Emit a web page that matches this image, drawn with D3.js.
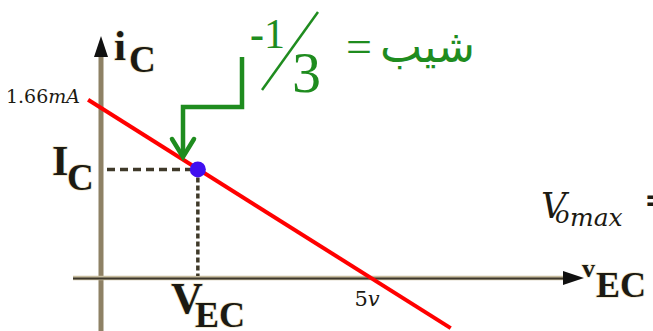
<!DOCTYPE html>
<html>
<head>
<meta charset="utf-8">
<script src="https://cdn.jsdelivr.net/npm/d3@7/dist/d3.min.js"></script>
<style>
  html, body { margin: 0; padding: 0; background: #ffffff; }
  svg { display: block; }
</style>
</head>
<body>
<div id="chart"></div>
<script>
// Load line of the common-emitter stage: i_C against v_EC
const loadLineV = [-0.24, 6.5];      // volts at the ends of the drawn line
const loadLineI = [1.74, -0.49];     // mA at the same ends
const qPointV = [1.8];               // operating point V_EC (V)
const qPointI = [1.06];              // operating point I_C (mA)
const yTickValues = [1.66];
const yTickLabels = [["1.66", "mA"]];
const xTickValues = [5];
const xTickLabels = [["5", "v"]];

const W = 653, H = 331;
const svg = d3.select("#chart").append("svg")
  .attr("width", W).attr("height", H);

const x = d3.scaleLinear().domain([0, 5]).range([101, 370]);
const y = d3.scaleLinear().domain([0, 1.66]).range([278, 108]);

const axisCol = "#8e8165";
const ink = "#1c1a12";
const halo = "#efe7cf";
const green = "#1f8c1f";
const boldFont = "'Liberation Serif', 'Times New Roman', serif";
const mathFont = "'DejaVu Serif', 'Liberation Serif', serif";

// vertical axis (i_C)
svg.append("line")
  .attr("x1", x(0)).attr("x2", x(0))
  .attr("y1", H).attr("y2", 55)
  .attr("stroke", axisCol).attr("stroke-width", 5);
svg.append("path")
  .attr("d", `M${x(0)},36 L${x(0) + 7},57 L${x(0) - 7},57 Z`)
  .attr("fill", "#111");

// horizontal axis (v_EC)
svg.append("line")
  .attr("x1", 73).attr("x2", 566)
  .attr("y1", y(0)).attr("y2", y(0))
  .attr("stroke", "#c9bea0").attr("stroke-width", 4.5);
svg.append("line")
  .attr("x1", 73).attr("x2", 566)
  .attr("y1", y(0) + 0.5).attr("y2", y(0) + 0.5)
  .attr("stroke", "#3c372b").attr("stroke-width", 2);
svg.append("path")
  .attr("d", `M584,${y(0)} L563,${y(0) - 7} L563,${y(0) + 7} Z`)
  .attr("fill", "#111");

// load line
const line = d3.line().x(d => x(d[0])).y(d => y(d[1]));
svg.append("path")
  .datum(d3.zip(loadLineV, loadLineI))
  .attr("d", line)
  .attr("fill", "none")
  .attr("stroke", "#ff0000")
  .attr("stroke-width", 4);

// projections of the operating point onto the axes
const dashCol = "#3f3929";
svg.selectAll(".hproj").data(d3.zip(qPointV, qPointI)).join("line")
  .attr("class", "hproj")
  .attr("x1", x(0) + 6).attr("x2", d => x(d[0]) - 6)
  .attr("y1", d => y(d[1])).attr("y2", d => y(d[1]))
  .attr("stroke", dashCol).attr("stroke-width", 3.5)
  .attr("stroke-dasharray", "8,5");
svg.selectAll(".vproj").data(d3.zip(qPointV, qPointI)).join("line")
  .attr("class", "vproj")
  .attr("x1", d => x(d[0])).attr("x2", d => x(d[0]))
  .attr("y1", d => y(d[1])).attr("y2", y(0) - 2)
  .attr("stroke", dashCol).attr("stroke-width", 3.5)
  .attr("stroke-dasharray", "5,3");

// operating point
svg.selectAll(".qpt").data(d3.zip(qPointV, qPointI)).join("circle")
  .attr("class", "qpt")
  .attr("cx", d => x(d[0])).attr("cy", d => y(d[1]))
  .attr("r", 8)
  .attr("fill", "#4010f0");

// tick labels
yTickValues.forEach((v, i) => {
  const t = svg.append("text")
    .attr("x", 80).attr("y", y(v) - 5)
    .attr("text-anchor", "end")
    .attr("font-family", mathFont).attr("font-size", 19)
    .attr("fill", ink);
  t.append("tspan").text(yTickLabels[i][0]);
  t.append("tspan").attr("font-style", "italic").text(yTickLabels[i][1]);
});
xTickValues.forEach((v, i) => {
  const t = svg.append("text")
    .attr("x", x(v) - 3).attr("y", 306)
    .attr("text-anchor", "middle")
    .attr("font-family", mathFont).attr("font-size", 21)
    .attr("fill", ink);
  t.append("tspan").text(xTickLabels[i][0]);
  t.append("tspan").attr("font-style", "italic").text(xTickLabels[i][1]);
});

// bold axis / quantity labels
function boldLabel(px, py, size, str) {
  svg.append("text")
    .attr("x", px).attr("y", py)
    .attr("font-family", boldFont)
    .attr("font-weight", "bold")
    .attr("font-size", size)
    .attr("fill", ink)
    .attr("stroke", halo).attr("stroke-width", 1.5)
    .attr("paint-order", "stroke")
    .text(str);
}
boldLabel(114, 60, 43, "i");
boldLabel(129, 72, 37, "C");
boldLabel(52, 175, 42, "I");
boldLabel(67, 190, 37, "C");
boldLabel(171, 313, 44, "V");
boldLabel(195, 327, 36, "EC");
boldLabel(582, 277, 26, "v");
boldLabel(596, 297, 36, "EC");

// V_o_max expression at the right edge
svg.append("text")
  .attr("x", 541).attr("y", 218)
  .attr("font-family", mathFont).attr("font-style", "italic")
  .attr("font-size", 35).attr("fill", ink)
  .text("V");
svg.append("text")
  .attr("x", 555).attr("y", 223)
  .attr("font-family", mathFont).attr("font-style", "italic")
  .attr("font-size", 24).attr("fill", ink)
  .text("o");
svg.append("text")
  .attr("x", 570).attr("y", 226)
  .attr("font-family", mathFont).attr("font-style", "italic")
  .attr("font-size", 25).attr("fill", ink)
  .text("max");
svg.append("text")
  .attr("x", 644).attr("y", 211)
  .attr("font-family", mathFont).attr("font-weight", "bold")
  .attr("font-size", 32).attr("fill", ink)
  .text("=");

// slope annotation: arrow pointing at the operating point
svg.append("path")
  .attr("d", "M242,57 L242,107 L183,107 L183,156")
  .attr("fill", "none")
  .attr("stroke", green).attr("stroke-width", 4.5)
  .attr("stroke-linejoin", "miter");
svg.append("path")
  .attr("d", "M172,139 L183,157 L194,139")
  .attr("fill", "none")
  .attr("stroke", green).attr("stroke-width", 4.5)
  .attr("stroke-linecap", "round");

// slope value  -1/3
const minusOne = svg.append("text")
  .attr("x", 250).attr("y", 48)
  .attr("font-family", boldFont).attr("font-size", 42)
  .attr("fill", green);
minusOne.append("tspan").attr("font-weight", "bold").text("-");
minusOne.append("tspan").text("1");
svg.append("line")
  .attr("x1", 262).attr("y1", 90).attr("x2", 318).attr("y2", 12)
  .attr("stroke", green).attr("stroke-width", 2.5);
svg.append("text")
  .attr("x", 292).attr("y", 92)
  .attr("font-family", boldFont).attr("font-size", 58)
  .attr("fill", green)
  .text("3");
svg.append("text")
  .attr("x", 346).attr("y", 62)
  .attr("font-family", boldFont).attr("font-size", 46)
  .attr("fill", green)
  .text("=");

// the word for "slope", fitted into its box
const slopeWord = svg.append("text")
  .attr("x", 475).attr("y", 62)
  .attr("text-anchor", "end")
  .attr("font-family", "'DejaVu Sans', 'Noto Sans', sans-serif")
  .attr("font-size", 44)
  .attr("fill", green)
  .text("شیب");
const bb = slopeWord.node().getBBox();
if (bb.width > 0) {
  const fs = 44 * 95 / bb.width;
  slopeWord.attr("font-size", fs);
}
</script>
</body>
</html>
